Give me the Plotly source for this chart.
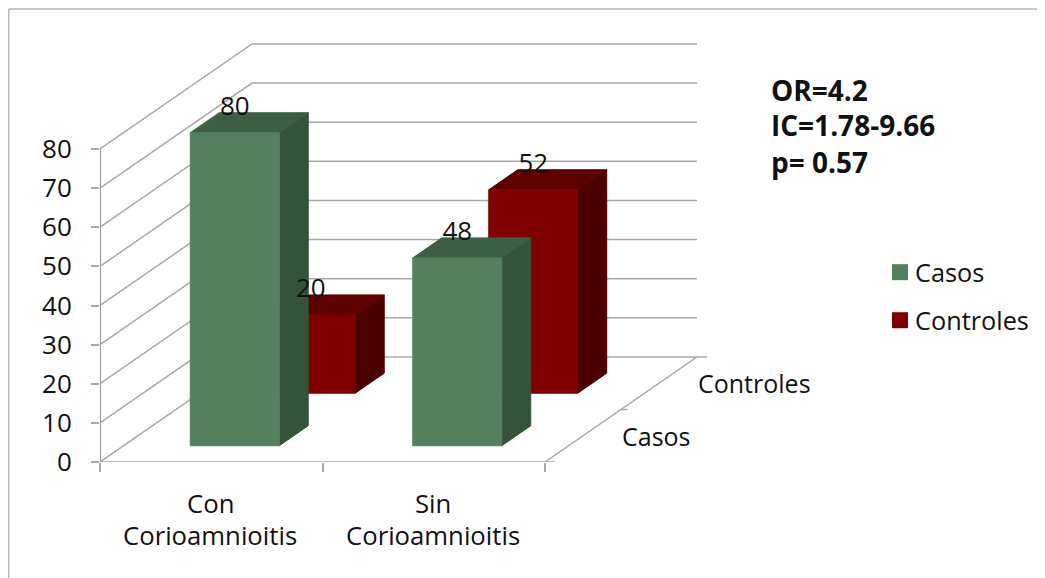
import plotly.graph_objects as go

# data
categorias = ['Con', 'Sin']
categorias_2 = ['Corioamnioitis', 'Corioamnioitis']
series = ['Casos', 'Controles']
casos = [80, 48]
controles = [20, 52]
eje_y = [0, 10, 20, 30, 40, 50, 60, 70, 80]
stats = ['OR=4.2', 'IC=1.78-9.66', 'p= 0.57']

# colors: front, top, side
col_casos = ['#54805f', '#3b6044', '#345338']
col_controles = ['#7f0000', '#5e0000', '#4d0000']
gris = '#a8a8a8'
texto = '#111111'
fuente = 'Open Sans'

# the page body adds 8px on top and left, so the figure is 8px smaller than the window
MARGEN = 8
W = 1045 - MARGEN
H = 578 - MARGEN

# scales: 1 category = 222.5 px, 1 unit = 3.91 px, axes origin at window px (100, 461.7)
PX_CAT = 222.5
PX_VAL = 3.91
X0 = 100 - MARGEN
Y0 = 461.7 - MARGEN

# oblique depth of one series slot in data units
DX = 76 / PX_CAT
DY = 52.5 / PX_VAL
N_SLOTS = len(series)
ANCHO = 0.4
FONDO = 0.381


# window pixels to paper fractions
def px(x):
    return (x - MARGEN - X0) / (W - X0)


def py(y):
    return (Y0 + MARGEN - y) / Y0


def linea(x, y, color=gris, width=1.5):
    return go.Scatter(x=x, y=y, mode='lines', line=dict(color=color, width=width),
                      hoverinfo='skip', showlegend=False, cliponaxis=False)


def cara(x, y, color, name):
    return go.Scatter(x=x, y=y, mode='lines', fill='toself', fillcolor=color,
                      line=dict(color=color, width=1), name=name,
                      hoverinfo='skip', showlegend=False, cliponaxis=False)


def etiqueta(text, x, y, size=25.7, xanchor='center', **kw):
    fig.add_annotation(x=x, y=y, text=text, showarrow=False, xanchor=xanchor, yanchor='middle',
                       font=dict(family=fuente, size=size, color=texto), **kw)


fig = go.Figure()

fondo_x = N_SLOTS * DX
fondo_y = N_SLOTS * DY

# walls gridlines
for v in eje_y:
    fig.add_trace(linea([0, fondo_x, 2 + fondo_x], [v, v + fondo_y, v + fondo_y]))

# floor edges and axes
fig.add_trace(linea([0, 2, 2 + fondo_x, 2.045 + fondo_x], [0, 0, fondo_y, fondo_y]))
fig.add_trace(linea([0, 0], [0, eje_y[-1]], color='#999999', width=2))
fig.add_trace(linea([2 + DX, 2.03 + DX], [DY, DY]))
fig.add_trace(linea([2, 2.045], [0, 0]))

# bars, back series first
for s, valores, cols, nombre in [(1, controles, col_controles, series[1]),
                                 (0, casos, col_casos, series[0])]:
    d0 = s + (1 - FONDO) / 2
    d1 = d0 + FONDO
    for i, v in enumerate(valores):
        x0 = i + (1 - ANCHO) / 2
        x1 = x0 + ANCHO
        # side
        fig.add_trace(cara([x1 + d0 * DX, x1 + d1 * DX, x1 + d1 * DX, x1 + d0 * DX, x1 + d0 * DX],
                           [d0 * DY, d1 * DY, v + d1 * DY, v + d0 * DY, d0 * DY], cols[2], nombre))
        # top
        fig.add_trace(cara([x0 + d0 * DX, x0 + d1 * DX, x1 + d1 * DX, x1 + d0 * DX, x0 + d0 * DX],
                           [v + d0 * DY, v + d1 * DY, v + d1 * DY, v + d0 * DY, v + d0 * DY], cols[1], nombre))
        # front
        fig.add_trace(cara([x0 + d0 * DX, x1 + d0 * DX, x1 + d0 * DX, x0 + d0 * DX, x0 + d0 * DX],
                           [d0 * DY, d0 * DY, v + d0 * DY, v + d0 * DY, d0 * DY], cols[0], nombre))

# data labels
for s, valores in [(1, controles), (0, casos)]:
    d0 = s + (1 - FONDO) / 2
    fig.add_trace(go.Scatter(
        x=[i + 0.5 + d0 * DX for i in range(len(valores))],
        y=[v + d0 * DY + 24.5 / PX_VAL for v in valores],
        text=[str(v) for v in valores], mode='text', textposition='middle center',
        textfont=dict(family=fuente, size=26, color=texto),
        hoverinfo='skip', showlegend=False, cliponaxis=False))

# category labels, two lines each
for i in range(len(categorias)):
    etiqueta(categorias[i], i + 0.5, py(503), yref='paper', xshift=-1)
    etiqueta(categorias_2[i], i + 0.5, py(535), yref='paper', xshift=-1)

# depth labels on the floor edge
for s, nombre in enumerate(series):
    etiqueta(nombre, 2 + (s + 0.5) * DX, (s + 0.5) * DY, size=25, xanchor='left', xshift=36.5)

# stats box
for t, yy in zip(stats, [90, 125, 162]):
    etiqueta('<b>%s</b>' % t, px(769), py(yy), size=28, xanchor='left', xref='paper', yref='paper')

# legend by hand, squares sit closer to the text than plotly's legend allows
shapes = []
for nombre, cols, yy in zip(series, [col_casos, col_controles], [272, 320]):
    shapes.append(dict(type='rect', xref='paper', yref='paper', x0=px(892), x1=px(908),
                       y0=py(yy - 8), y1=py(yy + 8), fillcolor=cols[0], line_width=0))
    etiqueta(nombre, px(913), py(yy), size=25.3, xanchor='left', xref='paper', yref='paper')

# chart area border, only top and left are in the picture
shapes.append(dict(type='line', xref='paper', yref='paper', x0=px(8.7), x1=px(1045), y0=py(9), y1=py(9),
                   line=dict(color='#b5b5b5', width=1.5)))
shapes.append(dict(type='line', xref='paper', yref='paper', x0=px(8.7), x1=px(8.7), y0=py(9), y1=py(578),
                   line=dict(color='#b5b5b5', width=1.5)))

fig.update_layout(
    width=W, height=H, autosize=False,
    margin=dict(l=X0, r=0, t=0, b=H - Y0, pad=0),
    paper_bgcolor='white', plot_bgcolor='white',
    showlegend=False, shapes=shapes,
    font=dict(family=fuente, color=texto),
)
fig.update_xaxes(range=[0, (W - X0) / PX_CAT], tickmode='array', tickvals=[0, 1, 2],
                 ticks='outside', ticklen=9, tickcolor=gris, tickwidth=1.5,
                 showticklabels=False, showgrid=False, zeroline=False, showline=False)
fig.update_yaxes(range=[0, Y0 / PX_VAL], tickmode='array', tickvals=eje_y,
                 ticks='outside', ticklen=8, tickcolor=gris, tickwidth=1.5,
                 ticklabelstandoff=14, tickfont=dict(family=fuente, size=26, color=texto),
                 showgrid=False, zeroline=False, showline=False)

fig.write_html("out.html")
